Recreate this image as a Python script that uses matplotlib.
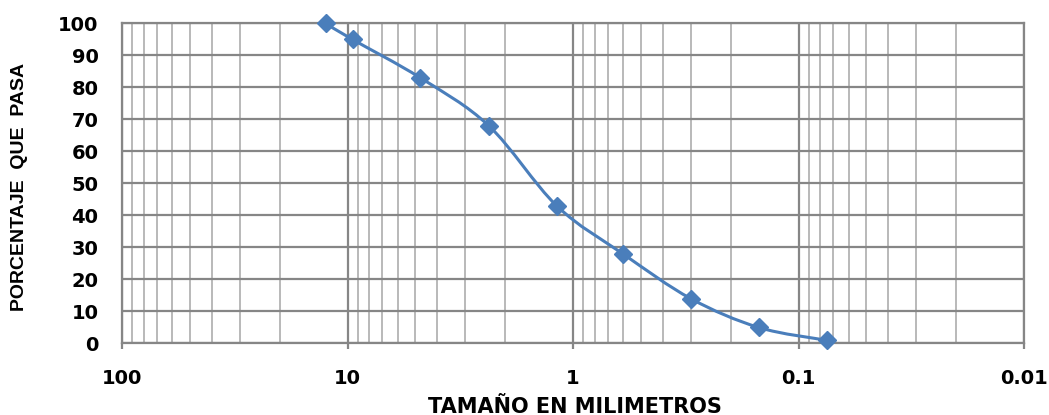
import numpy as np
import matplotlib
matplotlib.use("Agg")
import matplotlib.pyplot as plt
from matplotlib import font_manager
from matplotlib.path import Path
from matplotlib.patches import PathPatch
from matplotlib.ticker import FixedLocator, LogLocator, NullFormatter

# Sieve openings (mm) and cumulative percent passing
sieve_mm = [12.5, 9.5, 4.75, 2.36, 1.18, 0.6, 0.3, 0.15, 0.075]
pct_passing = [100, 95, 83, 68, 43, 28, 14, 5, 1]

x_ticks = [100, 10, 1, 0.1, 0.01]
x_ticklabels = ["100", "10", "1", "0.1", "0.01"]
y_ticks = list(range(0, 101, 10))

blue = "#4a7ebb"
major_grey = "#868686"
minor_grey = "#b3b3b3"

plt.rcParams['font.family'] = ['DejaVu Sans']

# narrow face for the vertical label if one is available
installed = {f.name for f in font_manager.fontManager.ttflist}
if 'Liberation Sans Narrow' in installed:
    ylab_font, ylab_size = 'Liberation Sans Narrow', 17
elif 'DejaVu Sans Condensed' in installed:
    ylab_font, ylab_size = 'DejaVu Sans Condensed', 13
else:
    ylab_font, ylab_size = 'Liberation Sans', 14

fig = plt.figure(figsize=(10.49, 4.15), dpi=100)
ax = fig.add_axes([0.1163, 0.1723, 0.8599, 0.7711])
ax.set_xscale('log')
ax.set_xlim(100, 0.01)
ax.set_ylim(0, 100)

# smooth line through the points: cardinal spline built in log-x space
lx = np.log10(sieve_mm)
py = np.array(pct_passing, dtype=float)
pts = np.column_stack([lx, py])
verts = [pts[0]]
codes = [Path.MOVETO]
n = len(pts)
for i in range(n - 1):
    p0 = pts[max(i - 1, 0)]
    p1 = pts[i]
    p2 = pts[i + 1]
    p3 = pts[min(i + 2, n - 1)]
    c1 = p1 + (p2 - p0) / 6.0
    c2 = p2 - (p3 - p1) / 6.0
    verts += [c1, c2, p2]
    codes += [Path.CURVE4] * 3
verts = np.array(verts)
verts[:, 0] = 10 ** verts[:, 0]
ax.add_patch(PathPatch(Path(verts, codes), facecolor='none', edgecolor=blue,
                       lw=2.2, zorder=3))
ax.plot(sieve_mm, pct_passing, linestyle='none', marker='D', markersize=9.5,
        color=blue, zorder=4, clip_on=False)

# grid
ax.xaxis.set_major_locator(FixedLocator(x_ticks))
ax.xaxis.set_minor_locator(LogLocator(base=10, subs=np.arange(2, 10)))
ax.xaxis.set_minor_formatter(NullFormatter())
ax.set_xticks(x_ticks)
ax.set_xticklabels(x_ticklabels)
ax.set_yticks(y_ticks)
ax.grid(True, which='minor', axis='x', color=minor_grey, lw=1.3, zorder=0)
ax.grid(True, which='major', axis='x', color=major_grey, lw=1.6, zorder=1)
ax.grid(True, which='major', axis='y', color=major_grey, lw=1.6, zorder=1)
ax.set_axisbelow(True)

for s in ax.spines.values():
    s.set_color(major_grey)
    s.set_linewidth(1.6)

ax.tick_params(axis='x', which='major', length=4, width=1.6, color=major_grey,
               pad=14.5, labelsize=14)
ax.tick_params(axis='x', which='minor', length=0)
ax.tick_params(axis='y', length=0, pad=17, labelsize=14)
for lab in ax.get_xticklabels() + ax.get_yticklabels():
    lab.set_fontweight('bold')

fig.text(0.548, 0.005, "TAMAÑO EN MILIMETROS", ha='center', va='baseline',
         fontsize=15, fontweight='bold')
fig.text(0.019, 0.5506, "PORCENTAJE  QUE  PASA", rotation=90, ha='center',
         va='center', fontsize=ylab_size, fontweight='bold', family=ylab_font)

fig.savefig("out.png", dpi=100)
